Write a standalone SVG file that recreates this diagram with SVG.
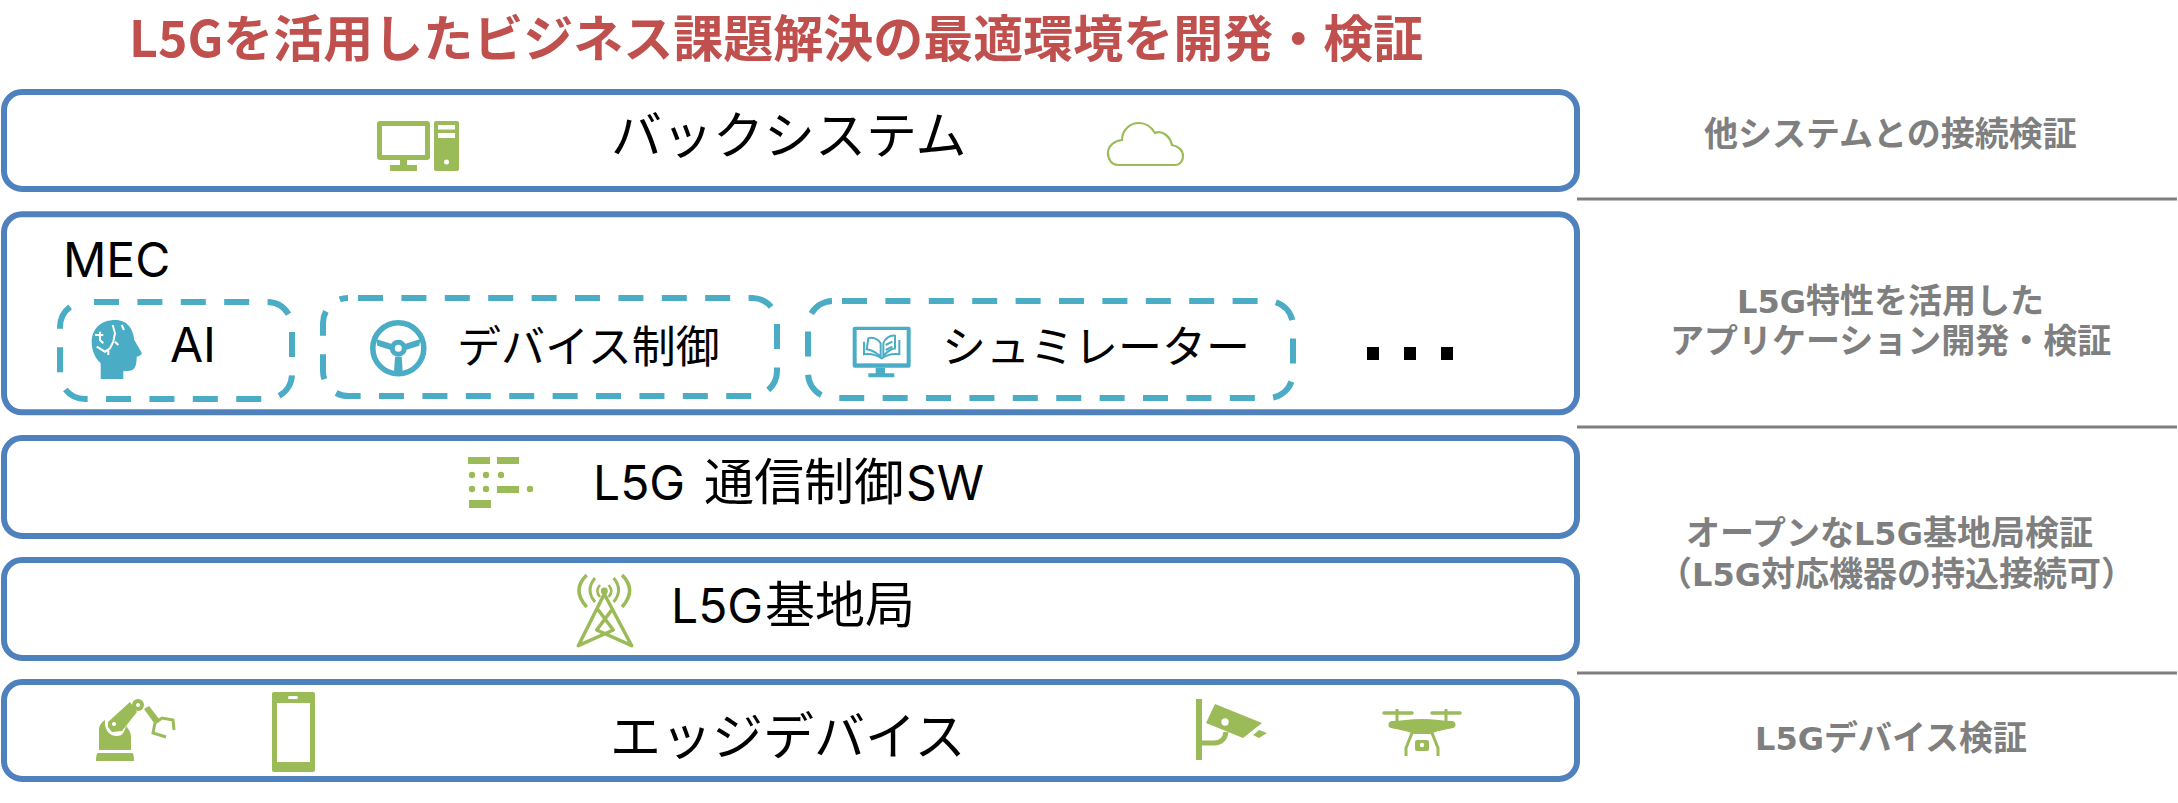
<svg xmlns="http://www.w3.org/2000/svg" width="2178" height="803" viewBox="0 0 2178 803">
<style>
text{font-family:"Noto Sans CJK JP","Noto Sans",sans-serif;fill:#000}
.t{font-size:50px}
.m{font-size:51px}
.s{font-size:44px}
.lat{font-family:"Inter","Noto Sans",sans-serif;font-size:48px}
.title{font-size:50px;font-weight:700;fill:#c0504d}
.r{font-size:34px;font-weight:700;fill:#7f7f7f}
.r .l{font-family:"DejaVu Sans",sans-serif;font-size:32px}
.box{fill:#fff;stroke:#4f81bd;stroke-width:6}
.dash{fill:#fff;stroke:#4bacc6;stroke-width:6;stroke-dasharray:25 18.4}
.sep{stroke:#7f7f7f;stroke-width:3}
.g{fill:#9bbb59}
.gl{fill:none;stroke:#9bbb59}
.b{fill:#4bacc6}
.bl{fill:none;stroke:#4bacc6}
.w{fill:#fff}
.wl{fill:none;stroke:#fff}
</style>
<rect width="2178" height="803" fill="#fff"/>
<text id="title" class="title" x="129" y="57">L5Gを活用したビジネス課題解決の最適環境を開発・検証</text>

<g id="connectors">
<line class="sep" x1="1577" y1="199" x2="2177" y2="199"/>
<line class="sep" x1="1577" y1="427" x2="2177" y2="427"/>
<line class="sep" x1="1577" y1="673" x2="2177" y2="673"/>
</g>

<g id="back-system">
<rect class="box" x="4" y="92" width="1573" height="97" rx="18"/>
<rect class="g" x="377" y="121" width="53" height="39" rx="3"/>
<rect class="w" x="382" y="126" width="43" height="29"/>
<path class="g" d="M400 160h7v5h10v6h-27v-6h10z"/>
<rect class="g" x="434" y="121" width="25" height="50" rx="2"/>
<rect class="w" x="438" y="125" width="17" height="4.500"/>
<rect class="w" x="438" y="133" width="17" height="5"/>
<circle class="w" cx="446.500" cy="162" r="2.500"/>
<text class="m" x="611" y="154">バックシステム</text>
<path class="gl" stroke-width="2.200" d="M1118 165C1112 165 1108 160 1108 153C1108 146 1114 141 1122 140C1122 130 1130 123 1139 123C1147 123 1152 128 1155 133C1162 130 1170 136 1172 145C1178 146 1183 150 1183 156C1183 161 1180 165 1175 165Z"/>
</g>

<g id="mec">
<rect class="box" x="4" y="214.300" width="1573" height="198" rx="18"/>
<text class="lat" x="63" y="277">MEC</text>
<rect x="1367" y="347" width="12" height="13"/>
<rect x="1404" y="347" width="12" height="13"/>
<rect x="1441" y="347" width="12" height="13"/>
</g>

<g id="ai">
<rect class="dash" x="60" y="302" width="232" height="97" rx="25" stroke-dashoffset="-9"/>
<path class="b" d="M100.700 379V363.300C95 358.300 91.700 350 91.700 341.700C91.700 328.300 101.700 320 115 320C128.300 320 133.300 330 134.300 340L141.700 352.700C142 355 139.300 356 136.700 356.700C136.700 365 135 370 130 370.700L123.300 371.300V379Z"/>
<path class="wl" stroke-width="2" d="M112.700 325L115 333.300L113.300 341.700L110 348.300L105 351.700L96.700 346.700M108.300 349V355M121.700 325L124 330M100 331.700V340L103.300 343.300M95 335H103.300M115 341.700L118.300 345"/>
<text class="lat" x="170" y="362">AI</text>
</g>

<g id="device-control">
<rect class="dash" x="323" y="298" width="454" height="98" rx="25" stroke-dashoffset="-10"/>
<circle class="bl" stroke-width="5.500" cx="398.300" cy="348.300" r="25.500"/>
<path class="b" d="M376 339L392.700 344.300L390.700 350L377.300 345.700ZM420.600 339L403.900 344.300L405.900 350L419.300 345.700ZM395 356.700H401.700L402.700 372.300H394Z"/>
<circle class="bl" stroke-width="5" cx="398.300" cy="348.300" r="6"/>
<text class="s" x="457" y="363">デバイス制御</text>
</g>

<g id="simulator">
<rect class="dash" x="808" y="301" width="485" height="97" rx="25" stroke-dashoffset="-9"/>
<g transform="translate(840 315) scale(.3333)">
<rect class="b" x="38" y="35" width="174" height="123" rx="6"/>
<rect class="w" x="50" y="45" width="150" height="100"/>
<path class="b" d="M107 158h28v17h28v12h-78v-12h22z"/>
<path class="bl" stroke-width="6" d="M122 125C105 110 95 105 80 103L85 70C100 65 118 75 122 85ZM130 85C135 70 150 60 165 62V100C150 103 135 115 130 125Z"/>
<path class="bl" stroke-width="6" d="M72 80V118C90 115 110 120 125 130C140 120 160 115 178 118V75M137 90L157 80M137 105L157 95"/>
</g>
<text class="s" x="942" y="363">シュミレーター</text>
</g>

<g id="l5g-sw">
<rect class="box" x="4" y="438" width="1573" height="98" rx="18"/>
<rect class="g" x="468" y="457" width="22" height="7"/>
<rect class="g" x="497" y="457" width="22" height="7"/>
<circle class="g" cx="472" cy="475" r="3.200"/>
<circle class="g" cx="486" cy="475" r="3.200"/>
<circle class="g" cx="501" cy="475" r="3.200"/>
<circle class="g" cx="472" cy="489" r="3.200"/>
<circle class="g" cx="486" cy="489" r="3.200"/>
<rect class="g" x="497" y="486" width="22" height="7"/>
<circle class="g" cx="530" cy="489" r="3.200"/>
<rect class="g" x="469" y="500" width="22" height="8"/>
<text class="t" y="500"><tspan class="lat" x="593">L5G</tspan><tspan x="704">通信制御</tspan><tspan class="lat" x="906">SW</tspan></text>
</g>

<g id="l5g-base">
<rect class="box" x="4" y="560" width="1573" height="98" rx="18"/>
<circle class="g" cx="604.300" cy="591" r="3.500"/>
<path class="gl" stroke-width="2.500" d="M600 585Q594.600 591 600 597M608.600 585Q614 591 608.600 597"/>
<path class="gl" stroke-width="3" d="M595 578Q585 590 595 602M613.600 578Q623.600 590 613.600 602"/>
<path class="gl" stroke-width="3.500" d="M586.700 575Q571.300 590 586.700 607M622 575Q637.300 590 622 607"/>
<path class="gl" stroke-width="3.500" stroke-linejoin="round" stroke-linecap="round" d="M604.300 594L578.300 645.700M604.300 594L631.700 645.700M578.300 645.700L613.300 630L598.300 610M631.700 645.700L596.700 630L611.700 610"/>
<text class="t" y="623"><tspan class="lat" x="671">L5G</tspan><tspan x="765">基地局</tspan></text>
</g>

<g id="edge-device">
<rect class="box" x="4" y="682" width="1573" height="97" rx="18"/>
<path class="g" d="M99 750V730C99 725 102 722 105 720C104 728 108 736 117 736C122 736 124 733 126 726C129 729 131 733 131 737V750Z"/>
<path class="g" d="M108 722L130 702L137 712L122 731L112 732L108 727Z"/>
<circle class="g" cx="138" cy="705" r="6"/>
<circle class="w" cx="138" cy="705" r="2"/>
<circle class="w" cx="114" cy="724" r="2"/>
<path class="g" d="M144 709L149 706L160 720L154 723Z"/>
<path class="gl" stroke-width="3" d="M155 723L162 718L173 720L174 730M155 723L153 733L166 737"/>
<path class="g" d="M98 753H132Q134 753 134 761H96Q96 753 98 753Z"/>
<rect class="g" x="272" y="692" width="43" height="80" rx="2"/>
<rect class="w" x="277" y="703" width="33" height="59"/>
<rect class="w" x="288" y="696" width="10" height="3" rx="1.500"/>
<text class="m" x="610" y="755">エッジデバイス</text>
<rect class="g" x="1196" y="699" width="6" height="61"/>
<path class="g" d="M1215 704l47 19-19 15-37-15z"/>
<path class="g" d="M1259 730l8 3-8 5-6-3z"/>
<circle class="w" cx="1225" cy="722" r="3.700"/>
<path class="gl" stroke-width="5" d="M1202 743h12c7 0 11-4 12-11"/>
<path class="gl" stroke-width="3.500" stroke-linecap="round" d="M1384 713h28M1432 713h28"/>
<path class="gl" stroke-width="3" d="M1397 709v14M1446 709v14"/>
<path class="g" d="M1392 721c8 0 18-2 30-2s22 2 30 2c4 0 5 6 1 7-9 2-17 3-22 6h-18c-5-3-13-4-22-6-4-1-3-7 1-7z"/>
<path class="gl" stroke-width="3" d="M1412 733l-6 15v8M1432 733l6 15v8"/>
<rect class="g" x="1415" y="740" width="14" height="11" rx="2"/>
<circle class="w" cx="1422" cy="745" r="2.200"/>
</g>

<g id="label-other">
<text class="r" x="1704" y="146">他システムとの接続検証</text>
</g>
<g id="label-app">
<text class="r" x="1737" y="313"><tspan class="l">L5G</tspan>特性を活用した</text>
<text class="r" x="1670" y="353">アプリケーション開発・検証</text>
</g>
<g id="label-open">
<text class="r" x="1686" y="545">オープンな<tspan class="l">L5G</tspan>基地局検証</text>
<text class="r" x="1658" y="586">（<tspan class="l">L5G</tspan>対応機器の持込接続可）</text>
</g>
<g id="label-device">
<text class="r" x="1755" y="750"><tspan class="l">L5G</tspan>デバイス検証</text>
</g>
</svg>
